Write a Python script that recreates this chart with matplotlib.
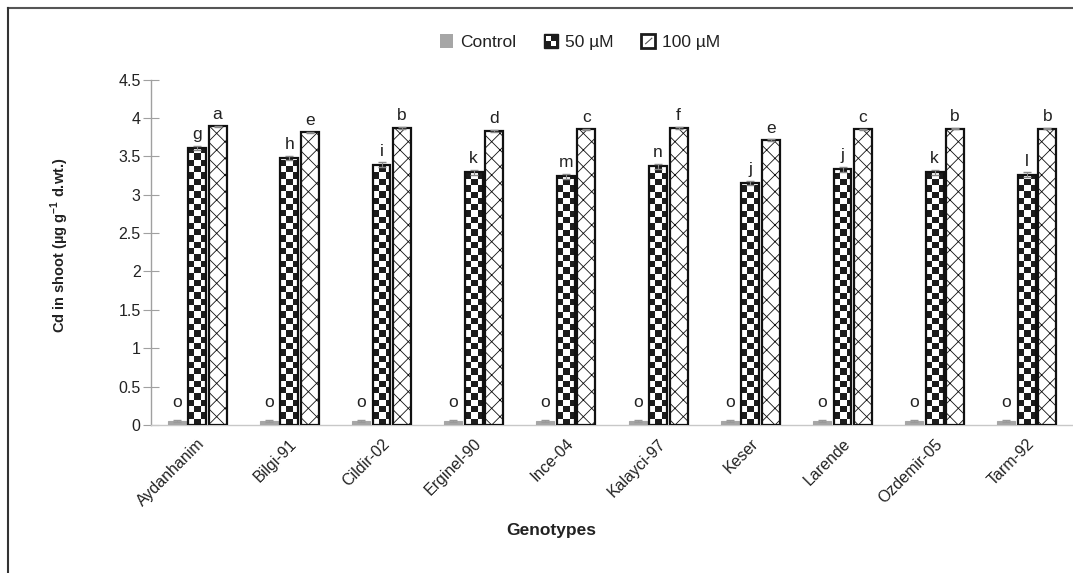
import numpy as np
import matplotlib
matplotlib.use("Agg")
import matplotlib.pyplot as plt
from matplotlib.patches import Rectangle
from matplotlib.legend_handler import HandlerBase
from matplotlib.lines import Line2D

plt.rcParams['font.family'] = ['Liberation Sans', 'DejaVu Sans']
plt.rcParams['hatch.linewidth'] = 0.6
plt.rcParams['mathtext.fontset'] = 'custom'
plt.rcParams['mathtext.rm'] = 'Liberation Sans'
plt.rcParams['mathtext.bf'] = 'Liberation Sans:bold'

genotypes = ["Aydanhanim", "Bilgi-91", "Cildir-02", "Erginel-90", "Ince-04",
             "Kalayci-97", "Keser", "Larende", "Ozdemir-05", "Tarm-92"]
control = [0.05, 0.05, 0.05, 0.05, 0.05, 0.05, 0.05, 0.05, 0.05, 0.05]
uM50 = [3.61, 3.48, 3.39, 3.29, 3.24, 3.37, 3.15, 3.33, 3.29, 3.26]
uM100 = [3.89, 3.81, 3.87, 3.83, 3.85, 3.87, 3.71, 3.85, 3.86, 3.86]
err_control = [0.01] * 10
err50 = [0.03, 0.03, 0.03, 0.03, 0.03, 0.03, 0.03, 0.03, 0.03, 0.03]
err100 = [0.01, 0.01, 0.01, 0.01, 0.01, 0.01, 0.01, 0.01, 0.01, 0.01]
let_control = ["o"] * 10
let50 = ["g", "h", "i", "k", "m", "n", "j", "j", "k", "l"]
let100 = ["a", "e", "b", "d", "c", "f", "e", "c", "b", "b"]
yticks = [0, 0.5, 1, 1.5, 2, 2.5, 3, 3.5, 4, 4.5]
ytick_labels = ["0", "0.5", "1", "1.5", "2", "2.5", "3", "3.5", "4", "4.5"]

W, H = 1073, 573
fig = plt.figure(figsize=(W / 100, H / 100), dpi=100)
ax_l, ax_r, ax_t, ax_b = 151, 1073, 79.5, 425
ax = fig.add_axes([ax_l / W, 1 - ax_b / H, (ax_r - ax_l) / W, (ax_b - ax_t) / H])

n = len(genotypes)
x = np.arange(n)
bw = 0.195
off = 0.222

px_x = (ax_r - ax_l) / n      # pixels per x unit
px_y = (ax_b - ax_t) / 4.5    # pixels per y unit

# control bars
ax.bar(x - off, control, bw, color='#a6a6a6', edgecolor='#a6a6a6', linewidth=0.8, zorder=3)
ax.errorbar(x - off, control, yerr=err_control, fmt='none', ecolor='#999999',
            elinewidth=0.8, capsize=3, zorder=4)

# 50 uM bars with checkerboard fill
bars50 = ax.bar(x, uM50, bw, facecolor='none', edgecolor='#111111', linewidth=1.6, zorder=3)
sq = 6.3
sx, sy = sq / px_x, sq / px_y
cmap_chk = matplotlib.colors.ListedColormap(['#ffffff', '#1c1c1c'])
for b in bars50:
    x0 = b.get_x()
    h = b.get_height()
    ncols = int(np.ceil(b.get_width() / sx)) + 1
    nrows = int(np.ceil(h / sy)) + 1
    chk = np.add.outer(np.arange(nrows), np.arange(ncols)) % 2
    im = ax.imshow(chk, extent=(x0, x0 + ncols * sx, 0, nrows * sy), origin='lower',
                   cmap=cmap_chk, interpolation='nearest', aspect='auto', zorder=2.5)
    im.set_clip_path(b)
ax.errorbar(x, uM50, yerr=err50, fmt='none', ecolor='#888888',
            elinewidth=0.8, capsize=3, zorder=4)

# 100 uM bars with cross hatch
bars100 = ax.bar(x + off, uM100, bw, facecolor='white', edgecolor='#111111',
                 linewidth=1.6, hatch='xx', zorder=3)
ax.errorbar(x + off, uM100, yerr=err100, fmt='none', ecolor='#888888',
            elinewidth=0.8, capsize=3, zorder=4)

ax.set_xlim(-0.5, n - 0.5)
ax.set_ylim(0, 4.5)

# letters
for i in range(n):
    ax.text(x[i] - off, 0.2, let_control[i], ha='center', va='bottom', fontsize=12.5, color='#222222')
    ax.text(x[i], uM50[i] + err50[i] + 0.05, let50[i], ha='center', va='bottom', fontsize=12.5, color='#222222')
    ax.text(x[i] + off, uM100[i] + err100[i] + 0.05, let100[i], ha='center', va='bottom', fontsize=12.5, color='#222222')

# axes styling
for s in ['top', 'right']:
    ax.spines[s].set_visible(False)
ax.spines['left'].set_color('#a0a0a0')
ax.spines['bottom'].set_color('#c8c8c8')
ax.spines['left'].set_linewidth(1.0)
ax.spines['bottom'].set_linewidth(1.0)
ax.set_yticks(yticks)
ax.set_yticklabels(ytick_labels)
ax.tick_params(axis='y', direction='inout', length=11, width=0.8, color='#a0a0a0',
               labelsize=11.5, labelcolor='#222222', pad=2)
ax.set_xticks(x)
ax.set_xticklabels(genotypes, rotation=45, ha='right', rotation_mode='anchor')
ax.tick_params(axis='x', length=0, labelsize=11.5, labelcolor='#222222', pad=8)

fig.text(60 / W, 1 - 245 / H, r"Cd in shoot (µg g$^{\mathbf{-1}}$ d.wt.)", rotation=90,
         ha='center', va='center', fontsize=10.5, fontweight='bold', color='#222222')
fig.text(551 / W, 1 - 530 / H, "Genotypes", ha='center', va='center',
         fontsize=12.5, fontweight='bold', color='#222222')


class CheckerHandler(HandlerBase):
    def create_artists(self, legend, orig_handle, xdescent, ydescent, width, height, fontsize, trans):
        s = min(width, height)
        x0, y0 = -xdescent, -ydescent
        arts = [Rectangle((x0, y0), s, s, facecolor='#1c1c1c', edgecolor='#1c1c1c', lw=1, transform=trans)]
        q = s / 2
        arts.append(Rectangle((x0 + 1.5, y0 + q), q - 1.5, q - 1.5, facecolor='white', lw=0, transform=trans))
        arts.append(Rectangle((x0 + q, y0 + 1.5), q - 1.5, q - 1.5, facecolor='white', lw=0, transform=trans))
        return arts


class CrossHandler(HandlerBase):
    def create_artists(self, legend, orig_handle, xdescent, ydescent, width, height, fontsize, trans):
        s = min(width, height)
        x0, y0 = -xdescent, -ydescent
        r = Rectangle((x0, y0), s, s, facecolor='white', edgecolor='#1c1c1c', lw=2, transform=trans)
        l = Line2D([x0 + s * 0.3, x0 + s * 0.75], [y0 + s * 0.3, y0 + s * 0.7], color='#555555', lw=0.8, transform=trans)
        return [r, l]


class SquareHandler(HandlerBase):
    def create_artists(self, legend, orig_handle, xdescent, ydescent, width, height, fontsize, trans):
        s = min(width, height)
        return [Rectangle((-xdescent, -ydescent), s, s, facecolor='#a6a6a6', lw=0, transform=trans)]


h_c = Rectangle((0, 0), 1, 1)
h_50 = Rectangle((0, 0), 1, 1)
h_100 = Rectangle((0, 0), 1, 1)
leg = fig.legend([h_c, h_50, h_100], ["Control", "50 µM", "100 µM"],
                 handler_map={h_c: SquareHandler(), h_50: CheckerHandler(), h_100: CrossHandler()},
                 loc='center', bbox_to_anchor=(580 / W, 1 - 42 / H), ncol=3, frameon=False,
                 fontsize=12.5, handlelength=0.85, handleheight=0.85, handletextpad=0.35,
                 columnspacing=1.6)
for t in leg.get_texts():
    t.set_color('#222222')

# chart frame (top and left edges visible)
fig.add_artist(Line2D([8 / W, 1], [1 - 8 / H, 1 - 8 / H], color='#555555', lw=1.5, transform=fig.transFigure))
fig.add_artist(Line2D([8 / W, 8 / W], [0, 1 - 8 / H], color='#333333', lw=1.5, transform=fig.transFigure))

fig.savefig("out.png", dpi=100)
